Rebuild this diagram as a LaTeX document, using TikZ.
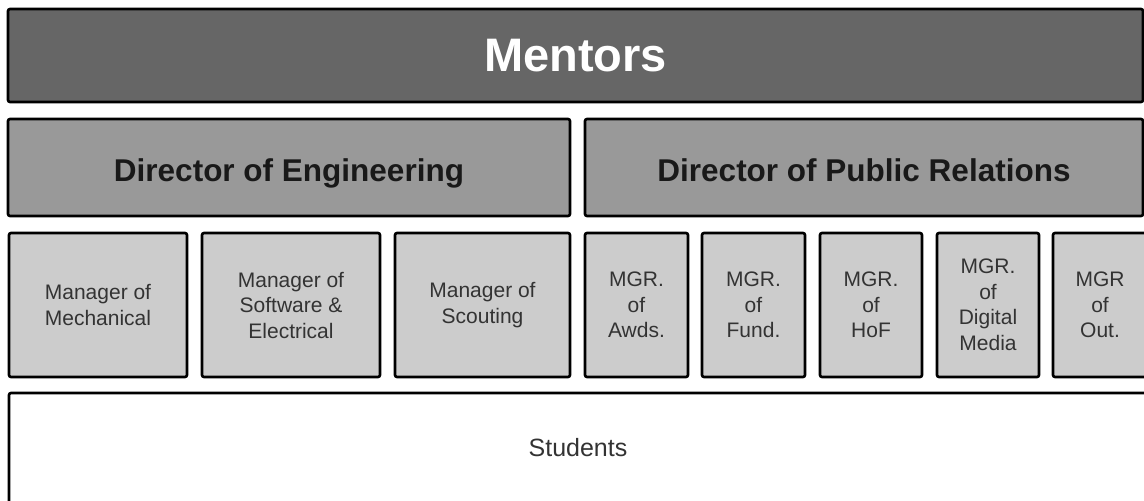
\documentclass[tikz,border=0pt]{standalone}
\usepackage{fontspec}
\setmainfont{Liberation Sans}
\definecolor{mentorfill}{HTML}{666666}
\definecolor{dirfill}{HTML}{999999}
\definecolor{mgrfill}{HTML}{CCCCCC}
\definecolor{mgrtext}{HTML}{333333}
\begin{document}
\begin{tikzpicture}[x=1pt,y=-1pt,
  box/.style={draw=black, line width=2.6pt, rounded corners=2pt, inner sep=0pt, align=center},
  mentorbox/.style={box, fill=mentorfill, text=white, font=\fontsize{47}{56}\selectfont\bfseries},
  dirbox/.style={box, fill=dirfill, text=black!90, font=\fontsize{31.5}{38}\selectfont\bfseries, text height=27pt, text depth=0pt},
  mgrbox/.style={box, fill=mgrfill, text=mgrtext, font=\fontsize{21}{25.5}\selectfont, minimum height=144pt},
  studbox/.style={box, fill=white, text=mgrtext, font=\fontsize{25}{30}\selectfont}
]
\useasboundingbox (0,0) rectangle (1144,501);
\clip (0,0) rectangle (1144,501);
\fill[white] (0,0) rectangle (1144,501);

\node[mentorbox, minimum width=1135pt, minimum height=93pt] (mentors) at (575.5,55.5) {Mentors};

\node[dirbox, minimum width=562pt, minimum height=97pt] (deng) at (289,167.5) {Director of Engineering};
\node[dirbox, minimum width=558pt, minimum height=97pt] (dpr) at (864,167.5) {Director of Public Relations};

\node[mgrbox, minimum width=178pt] (mech) at (98,305) {Manager of\\Mechanical};
\node[mgrbox, minimum width=178pt] (soft) at (291,305) {Manager of\\Software \&\\Electrical};
\node[mgrbox, minimum width=175pt] (scout) at (482.5,305) {Manager of\\Scouting};
\node[mgrbox, minimum width=103pt] (awds) at (636.5,305) {MGR.\\of\\Awds.};
\node[mgrbox, minimum width=103pt] (fund) at (753.5,305) {MGR.\\of\\Fund.};
\node[mgrbox, minimum width=102pt] (hof) at (871,305) {MGR.\\of\\HoF};
\node[mgrbox, minimum width=102pt] (dm) at (988,305) {MGR.\\of\\Digital\\Media};
\node[mgrbox, minimum width=94pt] (out) at (1100,305) {MGR\\of\\Out.};

\node[studbox, minimum width=1138pt, minimum height=110pt] (students) at (578,448) {Students};
\end{tikzpicture}
\end{document}
